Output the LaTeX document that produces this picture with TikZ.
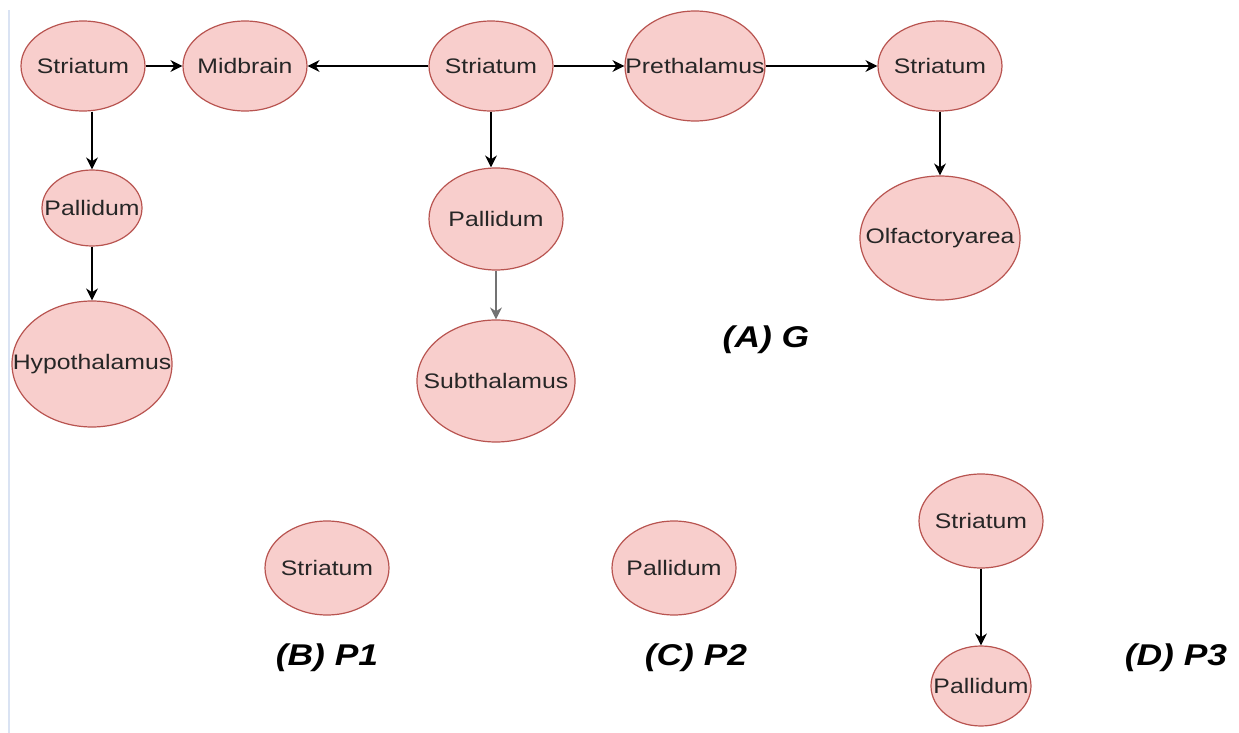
\documentclass[tikz,border=0pt]{standalone}
\usepackage{fontspec}
\setmainfont{Liberation Sans}
\newfontfamily\widesans[FakeStretch=1.18]{Liberation Sans}
\usetikzlibrary{shapes.geometric,arrows.meta}
\definecolor{regionfill}{HTML}{F8CECC}
\definecolor{regiondraw}{HTML}{B85450}
\definecolor{edgeline}{HTML}{DAE3F3}
\newsavebox\regionbox
\begin{document}
\begin{tikzpicture}[x=0.5pt,y=-0.5pt,
    region/.style={ellipse, draw=regiondraw, fill=regionfill, line width=0.6pt,
        inner sep=0pt, font=\widesans\fontsize{10.5}{12}\selectfont, text=black!85,
        execute at begin node={\setbox\regionbox=\hbox\bgroup},
        execute at end node={\egroup\makebox[0pt]{\usebox\regionbox}}},
    link/.style={-{Stealth[length=6pt,width=6pt]}, line width=0.7pt},
    caption/.style={font=\widesans\fontsize{15}{17}\selectfont\bfseries\itshape}]
    \useasboundingbox (0,0) rectangle (1239,733);
    \draw[edgeline, line width=1pt] (9,10) -- (9,733);

    % Graph G
    \node[region, minimum width=62pt, minimum height=45pt] (striatumA) at (83,66) {Striatum};
    \node[region, minimum width=62pt, minimum height=45pt] (midbrain) at (245,66) {Midbrain};
    \node[region, minimum width=62pt, minimum height=45pt] (striatumB) at (491,66) {Striatum};
    \node[region, minimum width=70pt, minimum height=55pt] (prethalamus) at (695,66) {Prethalamus};
    \node[region, minimum width=62pt, minimum height=45pt] (striatumC) at (940,66) {Striatum};
    \node[region, minimum width=50pt, minimum height=38pt] (pallidumA) at (92,208) {Pallidum};
    \node[region, minimum width=80pt, minimum height=63pt] (hypothalamus) at (92,364) {Hypothalamus};
    \node[region, minimum width=67pt, minimum height=51pt] (pallidumB) at (496,219) {Pallidum};
    \node[region, minimum width=79pt, minimum height=61pt] (subthalamus) at (496,381) {Subthalamus};
    \node[region, minimum width=80pt, minimum height=62pt] (olfactory) at (940,238) {Olfactoryarea};

    \draw[link] (striatumA) -- (midbrain);
    \draw[link] (striatumA.south -| pallidumA.north) -- (pallidumA);
    \draw[link] (pallidumA) -- (hypothalamus);
    \draw[link] (striatumB) -- (midbrain);
    \draw[link] (striatumB) -- (prethalamus);
    \draw[link] (striatumB.south) -- (striatumB.south |- pallidumB.north);
    \draw[link, draw=black!55] (pallidumB) -- (subthalamus);
    \draw[link] (prethalamus) -- (striatumC);
    \draw[link] (striatumC) -- (olfactory);
    \node[caption] (capA) at (766,340) {(A) G};

    % Patterns P1, P2, P3
    \node[region, minimum width=62pt, minimum height=47pt] (striatumP1) at (327,568) {Striatum};
    \node[region, minimum width=62pt, minimum height=47pt] (pallidumP2) at (674,568) {Pallidum};
    \node[region, minimum width=62pt, minimum height=47pt] (striatumP3) at (981,521) {Striatum};
    \node[region, minimum width=50pt, minimum height=40pt] (pallidumP3) at (981,686) {Pallidum};
    \draw[link] (striatumP3) -- (pallidumP3);

    \node[caption] (capB) at (327,658) {(B) P1};
    \node[caption] (capC) at (696,658) {(C) P2};
    \node[caption] (capD) at (1176,658) {(D) P3};
\end{tikzpicture}
\end{document}
